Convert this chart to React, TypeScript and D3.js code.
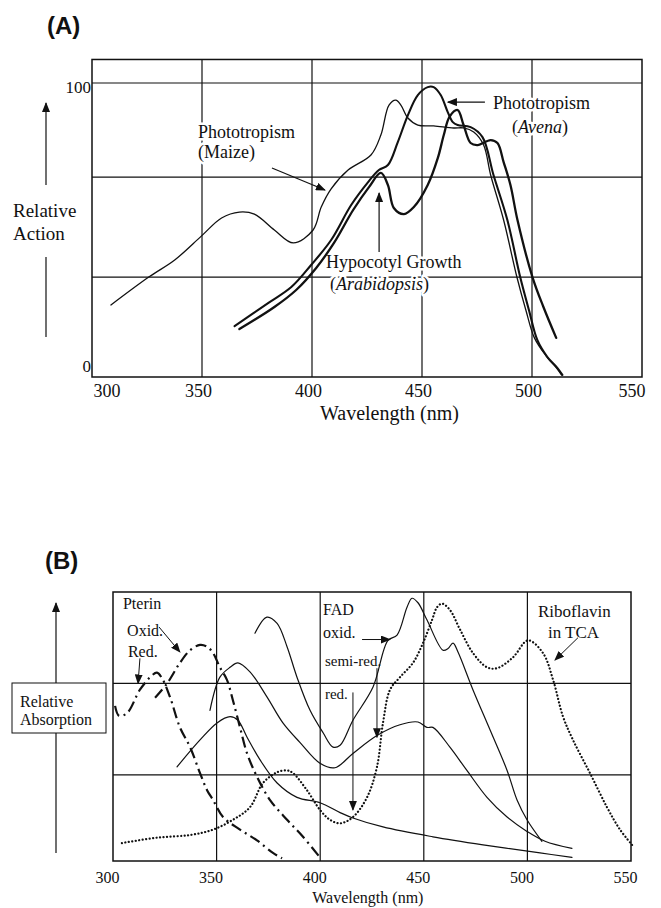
import * as d3 from "d3";
import { useEffect, useRef } from "react";

// ---------- shared ----------
const wavelengthTicks = [300, 350, 400, 450, 500, 550];
const gridWavelengths = [350, 400, 450, 500];

// ---------- panel A : relative action ----------
const actionLabels = [0, 100];
const actionGrid = [34, 68, 100];

const maize: [number, number][] = [
    [308.6, 24.5], [325.8, 34], [337.6, 39.8], [349.8, 48], [358.9, 54.1], [367, 56.1],
    [373.8, 55.4], [382.9, 50], [391.5, 45.6], [400.5, 50], [404.2, 57.8], [408.7, 64],
    [416.4, 70.4], [426.8, 75.5], [431.3, 82.3], [435, 92.5], [438.1, 94.2], [440.4, 92.5],
    [443.6, 88.1], [448.1, 85.7], [455.3, 85.4], [464.4, 84.7], [468.9, 84.7], [473.5, 83.3],
    [478, 78.9], [481.2, 68.7], [487.1, 53.4], [493.1, 34.1], [497.2, 22.8], [501.1, 13.3],
    [506.5, 7.1], [511.1, 3.1], [513.4, 0.7],
]

const avena: [number, number][] = [
    [364.8, 17.3], [380.2, 25.2], [390.6, 30.6], [399.6, 38.1], [408.7, 46.6], [417.8, 58.5],
    [425.5, 66.3], [430.4, 70.4], [434.5, 72.1], [439, 79.9], [443.6, 89.1], [448.1, 95.9],
    [452.6, 98.6], [455.3, 98.6], [458.5, 95.9], [461.7, 90.1], [464, 86.7], [466.2, 85.7],
    [472.1, 85], [477.5, 81.6], [482.5, 68.7], [488.8, 53.4], [494.6, 34.1], [498.6, 22.8],
    [502.4, 12.6], [507, 6.8], [511.5, 3.1], [513.8, 0.7],
]

const arabidopsis: [number, number][] = [
    [367, 16.3], [382.9, 23.8], [392.8, 29.6], [401.9, 37.1], [410, 45.6], [418.7, 56.8],
    [425.9, 64.6], [431.3, 69.4], [434.5, 65.3], [437.2, 57.5], [441.8, 55.4], [446.3, 57.8],
    [452.6, 65.3], [457.2, 74.5], [459.9, 82.3], [462.5, 88.5], [466.2, 90.8], [468.9, 85.7],
    [472.1, 79.6], [475.3, 78.9], [481.2, 80.6], [484.3, 79.6], [487.1, 73.1], [490.2, 65.3],
    [493.4, 53.4], [500.2, 34], [505.2, 23.8], [511, 13.3],
]

// ---------- panel B : relative absorption ----------
const absorbGrid = [0.96, 1.98];

const pterinOxid: [number, number][] = [
    [320.3, 1.82], [326.1, 1.98], [332.3, 2.21], [337.2, 2.35], [342, 2.41], [345.4, 2.39],
    [348.3, 2.32], [351.6, 2.16], [355, 2.02], [357.9, 1.79], [361.3, 1.49], [364.7, 1.2],
    [369.5, 0.94], [375.8, 0.68], [384, 0.46], [391.7, 0.27], [399.9, 0.04],
]

const pterinRed: [number, number][] = [
    [301, 1.73], [302.9, 1.62], [306.8, 1.65], [313, 1.91], [318.8, 2.07], [321.2, 2.1],
    [323.6, 2.04], [327.5, 1.83], [332.3, 1.49], [337.2, 1.27], [342, 0.98], [345.4, 0.79],
    [348.3, 0.68], [353.1, 0.49], [361.3, 0.35], [369.5, 0.23], [377.2, 0.09], [381.6, 0.03],
]

const fadOxid: [number, number][] = [
    [368.5, 2.54], [374.3, 2.72], [379.2, 2.65], [384, 2.39], [388.8, 2.05], [395.1, 1.68],
    [401.4, 1.43], [406.2, 1.27], [409.6, 1.29], [415.8, 1.57], [425.5, 1.94], [432.7, 2.46],
    [437.1, 2.52], [441.9, 2.83], [444.3, 2.93], [447.2, 2.88], [451.5, 2.69], [459.3, 2.35],
    [461.7, 2.37], [464.1, 2.43], [466.5, 2.33], [473.7, 1.91], [482, 1.46], [490.2, 1.01],
    [495, 0.68], [499.8, 0.46], [507, 0.22],
]

const fadSemiRed: [number, number][] = [
    [346.8, 1.68], [351.6, 2.05], [356.5, 2.16], [360.3, 2.21], [366.1, 2.11], [374.3, 1.83],
    [382, 1.54], [390.3, 1.32], [399.9, 1.09], [407.1, 1.04], [415.8, 1.2], [427.4, 1.4],
    [438.5, 1.52], [447.2, 1.55], [451.5, 1.49], [454.4, 1.49], [462.6, 1.27], [470.8, 1.01],
    [480.5, 0.71], [490.2, 0.49], [499.8, 0.33], [508.5, 0.22], [521.5, 0.14],
]

const fadRed: [number, number][] = [
    [330.9, 1.05], [342, 1.35], [350.2, 1.54], [356.5, 1.61], [360.3, 1.57], [364.7, 1.38],
    [370.9, 1.13], [379.2, 0.87], [388.8, 0.71], [399.9, 0.65], [409.6, 0.54], [415.8, 0.48],
    [430.3, 0.38], [454.4, 0.27], [478.6, 0.18], [506.1, 0.09], [521.5, 0.04],
]

const riboflavin: [number, number][] = [
    [304.3, 0.2], [321.2, 0.26], [337.2, 0.29], [348.3, 0.35], [357.9, 0.46], [366.1, 0.6],
    [372.4, 0.87], [379.2, 0.99], [384, 1.01], [386.9, 0.98], [393.6, 0.79], [399.9, 0.57],
    [404.7, 0.46], [409.6, 0.42], [415.8, 0.49], [422.6, 0.71], [427.4, 1.05], [430.3, 1.54],
    [433.7, 1.91], [438.5, 2.05], [444.8, 2.21], [449.6, 2.43], [454, 2.69], [456.4, 2.83],
    [458.8, 2.87], [462.6, 2.8], [467.5, 2.58], [473.7, 2.32], [480.5, 2.16], [485.3, 2.15],
    [493, 2.27], [500.3, 2.46], [507.5, 2.32], [512.4, 2.02], [517.2, 1.61], [522, 1.35],
    [530.2, 0.98], [538.4, 0.6], [544.7, 0.35], [550.5, 0.18],
]

const SERIF = "'Liberation Serif', 'Times New Roman', serif"
const SANS = "'Liberation Sans', Arial, sans-serif"
const INK = "#111"


export default function App() {

    const refSvg = useRef<SVGSVGElement>(null)

    useEffect(() => {

        let svg = d3.select(refSvg.current)
        svg.selectAll("*").remove()

        svg.append("defs").append("marker")
            .attr("id", "head")
            .attr("markerUnits", "userSpaceOnUse")
            .attr("markerWidth", 10).attr("markerHeight", 8)
            .attr("refX", 9).attr("refY", 4)
            .attr("orient", "auto")
            .append("path").attr("d", "M0,0 L10,4 L0,8 Z").attr("fill", INK)

        let addText = (g, txt, x, y, size, opts: any = {}) => {
            let t = g.append("text")
                .attr("x", x).attr("y", y)
                .attr("font-family", opts.family || SERIF)
                .attr("font-size", size)
                .attr("font-weight", opts.weight || "normal")
                .attr("fill", INK)
                .attr("text-anchor", opts.anchor || "start")
            if (opts.halo) {
                t.attr("stroke", "white").attr("stroke-width", 5)
                    .attr("paint-order", "stroke").attr("stroke-linejoin", "round")
            }
            if (Array.isArray(txt)) {
                txt.forEach(([s, it]) => t.append("tspan").attr("font-style", it ? "italic" : "normal").text(s))
            } else {
                t.text(txt)
            }
            return t
        }

        let arrow = (g, x1, y1, x2, y2, w = 1.2) => {
            g.append("line")
                .attr("x1", x1).attr("y1", y1).attr("x2", x2).attr("y2", y2)
                .attr("stroke", INK).attr("stroke-width", w)
                .attr("marker-end", "url(#head)")
        }

        //    ---------------   PANEL A  ------------------------

        let XA = d3.scaleLinear().domain([300, 550]).range([92, 642])
        let YA = d3.scaleLinear().domain([0, 100]).range([377, 83])

        let gA = svg.append("g")

        addText(gA, "(A)", 47, 34, 24, { family: SANS, weight: "bold" })

        // grid
        gA.selectAll(".vgrid").data(gridWavelengths).join("line")
            .attr("x1", d => XA(d)).attr("x2", d => XA(d))
            .attr("y1", YA(0)).attr("y2", YA(108))
            .attr("stroke", INK).attr("stroke-width", 1.2)
        gA.selectAll(".hgrid").data(actionGrid).join("line")
            .attr("x1", XA(300)).attr("x2", XA(550))
            .attr("y1", d => YA(d)).attr("y2", d => YA(d))
            .attr("stroke", INK).attr("stroke-width", 1.2)
        gA.append("rect")
            .attr("x", XA(300)).attr("y", YA(108))
            .attr("width", XA(550) - XA(300)).attr("height", YA(0) - YA(108))
            .attr("fill", "none").attr("stroke", INK).attr("stroke-width", 1.5)

        // x axis labels
        let axA = gA.append("g")
            .attr("transform", `translate(0,${YA(0)})`)
            .call(d3.axisBottom(XA).tickValues(wavelengthTicks).tickSize(0).tickPadding(7).tickFormat(d3.format("d")))
        axA.select(".domain").remove()
        axA.selectAll("text")
            .attr("font-family", SERIF).attr("font-size", 18).attr("fill", INK)
            .attr("text-anchor", (d, i) => i === 0 ? "start" : i === wavelengthTicks.length - 1 ? "end" : "middle")
            .attr("dx", (d, i) => i === 0 ? 1 : i === wavelengthTicks.length - 1 ? 3 : -4)

        // y labels
        gA.selectAll(".ylab").data(actionLabels).join("text")
            .attr("x", XA(300) - 1)
            .attr("y", d => d === 0 ? YA(d) - 5 : YA(d) + 10)
            .attr("text-anchor", "end")
            .attr("font-family", SERIF).attr("font-size", 17).attr("fill", INK)
            .text(d => d)

        addText(gA, "Wavelength (nm)", XA(435.2), 420, 20, { anchor: "middle" })
        addText(gA, "Relative", 13, 217, 19)
        addText(gA, "Action", 13, 240, 19)
        arrow(gA, 46, 185, 46, 103)
        gA.append("line").attr("x1", 46).attr("x2", 46).attr("y1", 257).attr("y2", 337)
            .attr("stroke", INK).attr("stroke-width", 1.2)

        // annotations
        addText(gA, "Phototropism", XA(348.2), YA(81.3), 18, { halo: true })
        addText(gA, "(Maize)", XA(348.2), YA(74.5), 18, { halo: true })
        arrow(gA, XA(381.8), YA(71.1), XA(405.9), YA(63.6))

        addText(gA, "Phototropism", XA(482.3), YA(91.2), 18, { halo: true })
        addText(gA, [["(", false], ["Avena", true], [")", false]], XA(490.9), YA(83), 18, { halo: true })
        arrow(gA, XA(478.6), YA(93.5), XA(461.8), YA(93.5))

        addText(gA, "Hypocotyl Growth", XA(406.4), YA(37.1), 18, { halo: true })
        addText(gA, [["(", false], ["Arabidopsis", true], [")", false]], XA(408.2), YA(29.6), 18, { halo: true })
        arrow(gA, XA(430.5), YA(42.5), XA(430.5), YA(62.6))

        // curves
        let lineA = d3.line<[number, number]>()
            .x(d => XA(d[0])).y(d => YA(d[1]))
            .curve(d3.curveCatmullRom.alpha(0.5))

        let seriesA = [
            { data: maize, w: 1.3 },
            { data: avena, w: 2.1 },
            { data: arabidopsis, w: 2.3 },
        ]
        gA.selectAll(".curveA").data(seriesA).join("path")
            .attr("d", d => lineA(d.data))
            .attr("fill", "none").attr("stroke", INK)
            .attr("stroke-width", d => d.w)
            .attr("stroke-linejoin", "round").attr("stroke-linecap", "round")


        //    ---------------   PANEL B  ------------------------

        let XB = d3.scaleLinear().domain([300, 550]).range([113, 631])
        let YB = d3.scaleLinear().domain([0, 3]).range([861, 592])

        let gB = svg.append("g")

        addText(gB, "(B)", 45, 569, 24, { family: SANS, weight: "bold" })

        gB.selectAll(".vgrid").data(gridWavelengths).join("line")
            .attr("x1", d => XB(d)).attr("x2", d => XB(d))
            .attr("y1", YB(0)).attr("y2", YB(3))
            .attr("stroke", INK).attr("stroke-width", 1.2)
        gB.selectAll(".hgrid").data(absorbGrid).join("line")
            .attr("x1", XB(300)).attr("x2", XB(550))
            .attr("y1", d => YB(d)).attr("y2", d => YB(d))
            .attr("stroke", INK).attr("stroke-width", 1.2)
        gB.append("rect")
            .attr("x", XB(300)).attr("y", YB(3))
            .attr("width", XB(550) - XB(300)).attr("height", YB(0) - YB(3))
            .attr("fill", "none").attr("stroke", INK).attr("stroke-width", 1.5)

        let axB = gB.append("g")
            .attr("transform", `translate(0,${YB(0)})`)
            .call(d3.axisBottom(XB).tickValues(wavelengthTicks).tickSize(0).tickPadding(11).tickFormat(d3.format("d")))
        axB.select(".domain").remove()
        axB.selectAll("text")
            .attr("font-family", SERIF).attr("font-size", 16).attr("fill", INK)
            .attr("dx", -6)

        addText(gB, "Wavelength (nm)", XB(423), 903, 16, { anchor: "middle" })

        // y title in a box
        gB.append("rect").attr("x", 12).attr("y", 683).attr("width", 94).attr("height", 50)
            .attr("fill", "white").attr("stroke", INK).attr("stroke-width", 1)
        addText(gB, "Relative", 20, 707, 16)
        addText(gB, "Absorption", 20, 725, 16)
        arrow(gB, 56, 683, 56, 603)
        gB.append("line").attr("x1", 56).attr("x2", 56).attr("y1", 733).attr("y2", 853)
            .attr("stroke", INK).attr("stroke-width", 1.2)

        // curves
        let lineB = d3.line<[number, number]>()
            .x(d => XB(d[0])).y(d => YB(d[1]))
            .curve(d3.curveCatmullRom.alpha(0.5))

        let seriesB = [
            { data: fadOxid, w: 1.2, dash: null, cap: "round" },
            { data: fadSemiRed, w: 1.2, dash: null, cap: "round" },
            { data: fadRed, w: 1.2, dash: null, cap: "round" },
            { data: pterinOxid, w: 2.2, dash: "11 4.5 2 4.5", cap: "butt" },
            { data: pterinRed, w: 2.2, dash: "11 4.5 2 4.5", cap: "butt" },
            { data: riboflavin, w: 2.2, dash: "0.1 3.4", cap: "round" },
        ]
        gB.selectAll(".curveB").data(seriesB).join("path")
            .attr("d", d => lineB(d.data))
            .attr("fill", "none").attr("stroke", INK)
            .attr("stroke-width", d => d.w)
            .attr("stroke-dasharray", d => d.dash)
            .attr("stroke-linecap", d => d.cap)

        // annotations
        addText(gB, "Pterin", XB(304.8), YB(2.81), 16)
        addText(gB, "Oxid.", XB(306.8), YB(2.51), 16)
        arrow(gB, XB(322.2), YB(2.61), XB(332.3), YB(2.33), 1)
        addText(gB, "Red.", XB(307.2), YB(2.27), 16)
        arrow(gB, XB(313), YB(2.26), XB(312.1), YB(1.98), 1)

        addText(gB, "FAD", XB(401.4), YB(2.74), 16)
        addText(gB, "oxid.", XB(401.4), YB(2.49), 16)
        arrow(gB, XB(420.2), YB(2.47), XB(433.7), YB(2.47), 1)
        addText(gB, "semi-red.", XB(402.3), YB(2.17), 15)
        arrow(gB, XB(427.4), YB(2.15), XB(427.4), YB(1.38), 1)
        addText(gB, "red.", XB(402.3), YB(1.81), 15)
        arrow(gB, XB(415.8), YB(1.88), XB(415.8), YB(0.57), 1)

        addText(gB, "Riboflavin", XB(505.1), YB(2.72), 17)
        addText(gB, "in TCA", XB(509.9), YB(2.49), 17)
        arrow(gB, XB(524.4), YB(2.49), XB(513.3), YB(2.24), 1)

    }, []);


    return (
        <svg ref={refSvg}
            width={661} height={908}
            style={{ position: "absolute", left: 0, top: 0, background: "white" }}
        />
    )
}
